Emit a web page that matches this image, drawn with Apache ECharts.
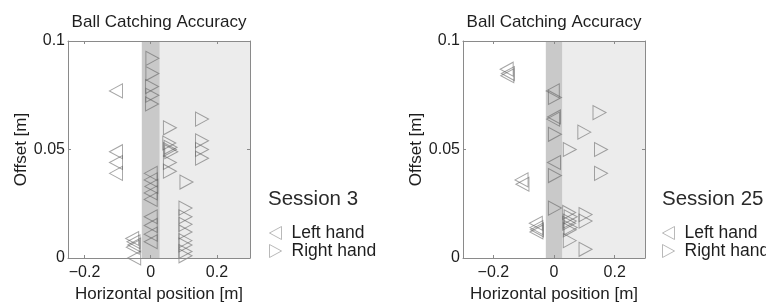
<!DOCTYPE html>
<html>
<head>
<meta charset="utf-8">
<script src="https://cdn.jsdelivr.net/npm/echarts@6/dist/echarts.min.js"></script>
<style>
  html, body { margin: 0; padding: 0; background: #fff; }
</style>
</head>
<body>
<div id="chart" style="width: 766px; height: 303px"></div>
<script>
// tick labels
const xTicks = [-0.2, 0, 0.2];
const yTicks = [0, 0.05, 0.1];
const sessions = ["Session 3", "Session 25"];
const handNames = ["Left hand", "Right hand"];

// session 3 points [x, y]
const s3Left = [
  [-0.105, 0.077],
  [-0.105, 0.049], [-0.105, 0.044], [-0.105, 0.039],
  [-0.056, 0.009], [-0.052, 0.0075], [-0.05, 0.006], [-0.054, 0.005], [-0.05, 0.0],
  [0.0, 0.039], [0.0, 0.036], [0.002, 0.033], [0.0, 0.030], [0.0, 0.027],
  [0.0, 0.019], [0.0, 0.015], [0.0, 0.011], [0.0, 0.0075],
];
const s3Right = [
  [0.005, 0.092], [0.005, 0.085], [0.004, 0.079], [0.005, 0.075], [0.004, 0.071],
  [0.058, 0.060],
  [0.155, 0.064], [0.155, 0.054], [0.155, 0.050], [0.155, 0.046],
  [0.056, 0.053], [0.06, 0.051], [0.058, 0.050], [0.062, 0.049], [0.058, 0.044], [0.058, 0.040],
  [0.108, 0.035],
  [0.105, 0.023], [0.105, 0.019], [0.105, 0.0155], [0.105, 0.012],
  [0.105, 0.008], [0.105, 0.006], [0.105, 0.003], [0.105, 0.001],
];

// session 25 points [x, y]
const s25Left = [
  [-0.156, 0.087], [-0.152, 0.085], [-0.154, 0.084],
  [-0.107, 0.036], [-0.104, 0.034],
  [-0.06, 0.016], [-0.058, 0.014], [-0.056, 0.013], [-0.058, 0.012],
  [-0.004, 0.077], [0.0, 0.065], [-0.003, 0.064], [0.0, 0.044],
];
const s25Right = [
  [0.003, 0.074], [0.003, 0.057], [0.003, 0.038], [0.003, 0.023],
  [0.15, 0.067], [0.1, 0.058], [0.052, 0.050], [0.155, 0.050], [0.155, 0.039],
  [0.05, 0.021], [0.055, 0.019], [0.052, 0.017], [0.05, 0.016], [0.055, 0.014], [0.052, 0.013],
  [0.104, 0.020], [0.104, 0.017],
  [0.052, 0.008], [0.104, 0.004],
];

// x limits of each panel and the target band
const xLimits = [[-0.25, 0.3], [-0.3, 0.3]];
const bandHalf = 0.027;

const font = "Liberation Sans";
const txt = "#1e1e1e";
const boxColor = "#8a8a8a";

function fmt(v) {
  return v < 0 ? "\u2212" + Math.abs(v) : String(v);
}

const grids = [
  { left: 68, top: 41, width: 182, height: 217, outerBoundsMode: "none" },
  { left: 463, top: 41, width: 182, height: 217, outerBoundsMode: "none" },
];

const xAxes = [];
const yAxes = [];
grids.forEach((g, i) => {
  const lim = xLimits[i];
  xAxes.push({
    gridIndex: i, type: "value", min: lim[0], max: lim[1], position: "bottom", z: 5,
    name: "Horizontal position [m]", nameLocation: "middle", nameGap: 27,
    nameTextStyle: { fontFamily: font, fontSize: 17, color: txt },
    axisLine: { onZero: false, lineStyle: { color: boxColor } },
    axisTick: { inside: true, length: 3, lineStyle: { color: boxColor }, customValues: xTicks },
    axisLabel: { fontFamily: font, fontSize: 16, color: txt, margin: 7, customValues: xTicks, formatter: fmt },
    splitLine: { show: false },
  });
  xAxes.push({
    gridIndex: i, type: "value", min: lim[0], max: lim[1], position: "top", z: 5,
    axisLine: { onZero: false, lineStyle: { color: boxColor } },
    axisTick: { inside: true, length: 3, lineStyle: { color: boxColor }, customValues: xTicks },
    axisLabel: { show: false },
    splitLine: { show: false },
  });
  yAxes.push({
    gridIndex: i, type: "value", min: 0, max: 0.1, position: "left", z: 5,
    name: "Offset [m]", nameLocation: "middle", nameGap: 38,
    nameTextStyle: { fontFamily: font, fontSize: 17, color: txt },
    axisLine: { show: true, onZero: false, lineStyle: { color: boxColor } },
    axisTick: { show: true, inside: true, length: 3, lineStyle: { color: boxColor }, customValues: yTicks },
    axisLabel: { fontFamily: font, fontSize: 16, color: txt, margin: 3, customValues: yTicks },
    splitLine: { show: false },
  });
  yAxes.push({
    gridIndex: i, type: "value", min: 0, max: 0.1, position: "right", z: 5,
    axisLine: { show: true, onZero: false, lineStyle: { color: boxColor } },
    axisTick: { show: true, inside: true, length: 3, lineStyle: { color: boxColor }, customValues: yTicks },
    axisLabel: { show: false },
    splitLine: { show: false },
  });
});

const markerStyle = {
  color: "transparent",
  borderColor: "rgba(95,95,95,0.7)",
  borderWidth: 1,
};

const sets = [[s3Left, s3Right], [s25Left, s25Right]];
const series = [];
sets.forEach((pair, i) => {
  const lim = xLimits[i];
  series.push({
    type: "scatter", xAxisIndex: i * 2, yAxisIndex: i * 2, data: [], z: 1, silent: true,
    markArea: {
      silent: true,
      data: [
        [{ xAxis: bandHalf, itemStyle: { color: "#ececec" } }, { xAxis: lim[1] }],
        [{ xAxis: -bandHalf, itemStyle: { color: "#c9c9c9" } }, { xAxis: bandHalf }],
      ],
    },
  });
  series.push({
    name: handNames[0], type: "scatter", xAxisIndex: i * 2, yAxisIndex: i * 2, z: 3,
    data: pair[0], symbol: "triangle", symbolSize: [14, 13], symbolRotate: 90,
    itemStyle: markerStyle,
  });
  series.push({
    name: handNames[1], type: "scatter", xAxisIndex: i * 2, yAxisIndex: i * 2, z: 3,
    data: pair[1], symbol: "triangle", symbolSize: [14, 13], symbolRotate: -90,
    itemStyle: markerStyle,
  });
});

const legendIcons = ["path://M0,6.5L12,0L12,13Z", "path://M0,0L12,6.5L0,13Z"];
const legendLefts = [264, 657];
const legends = legendLefts.map((x) => ({
  orient: "vertical", left: x, top: 219, itemGap: 0,
  itemWidth: 12, itemHeight: 13, selectedMode: false,
  data: handNames.map((n, k) => ({ name: n, icon: legendIcons[k] })),
  itemStyle: { color: "transparent", borderColor: "#a8a8a8", borderWidth: 1 },
  textStyle: { fontFamily: font, fontSize: 17.5, color: txt, padding: [0, 0, 0, 5] },
}));

const titles = [];
grids.forEach((g, i) => {
  titles.push({
    text: "Ball Catching Accuracy", left: g.left + g.width / 2, top: 14, textAlign: "center", padding: 0,
    textStyle: { fontFamily: font, fontSize: 17, fontWeight: "normal", color: txt },
  });
  titles.push({
    text: sessions[i], left: i === 0 ? 268 : 662, top: 189, padding: 0,
    textStyle: { fontFamily: font, fontSize: 20.5, fontWeight: "normal", color: "#2a2a2a" },
  });
});

const myChart = echarts.init(document.getElementById("chart"), null, { renderer: "canvas" });
myChart.setOption({
  animation: false,
  backgroundColor: "#fff",
  title: titles,
  legend: legends,
  grid: grids,
  xAxis: xAxes,
  yAxis: yAxes,
  series: series,
});
</script>
</body>
</html>
